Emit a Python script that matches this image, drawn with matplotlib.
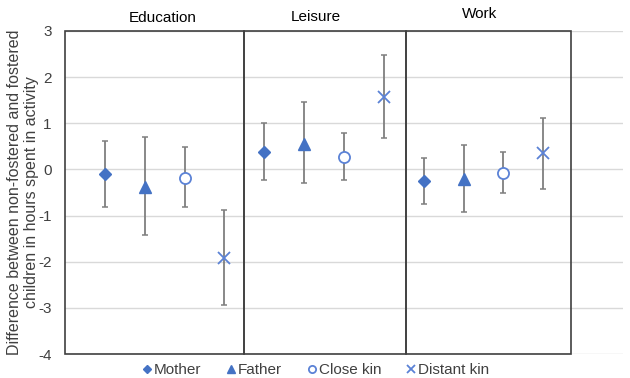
import matplotlib
matplotlib.use('Agg')
import matplotlib.pyplot as plt
from matplotlib.lines import Line2D
from matplotlib.patches import Rectangle

plt.rcParams['font.family'] = ['Liberation Sans', 'DejaVu Sans']
plt.rcParams['axes.unicode_minus'] = False

# activity panels and relative categories
groups = ['Education', 'Leisure', 'Work']
relatives = ['Mother', 'Father', 'Close kin', 'Distant kin']

# estimated differences (hours) with lower / upper bounds, one entry per group
mother_mean = [-0.10, 0.38, -0.24]
mother_lo = [-0.82, -0.23, -0.74]
mother_hi = [0.62, 1.00, 0.24]

father_mean = [-0.38, 0.56, -0.20]
father_lo = [-1.42, -0.30, -0.93]
father_hi = [0.70, 1.46, 0.54]

close_mean = [-0.18, 0.28, -0.08]
close_lo = [-0.82, -0.23, -0.52]
close_hi = [0.48, 0.80, 0.38]

distant_mean = [-1.93, 1.58, 0.35]
distant_lo = [-2.94, 0.68, -0.42]
distant_hi = [-0.87, 2.48, 1.12]

y_ticks = [3, 2, 1, 0, -1, -2, -3, -4]

series = [
    (mother_mean, mother_lo, mother_hi),
    (father_mean, father_lo, father_hi),
    (close_mean, close_lo, close_hi),
    (distant_mean, distant_lo, distant_hi),
]

blue = '#4472C4'
light_blue = '#5B82D6'
styles = [
    dict(marker='D', ms=6, mfc=blue, mec=blue, mew=1.0),
    dict(marker='^', ms=9, mfc=blue, mec=blue, mew=1.0),
    dict(marker='o', ms=8, mfc='white', mec=light_blue, mew=1.3),
    dict(marker='x', ms=9, mfc=light_blue, mec=light_blue, mew=1.3),
]

fig = plt.figure(figsize=(6.3, 3.78), dpi=100)
ax = fig.add_axes([65 / 630, 1 - 354 / 378, 558 / 630, 323 / 378])

for r, ((mean, lo, hi), st) in enumerate(zip(series, styles)):
    xs = [1 + 4 * g + r for g in range(len(groups))]
    err = [[m - l for m, l in zip(mean, lo)], [h - m for m, h in zip(mean, hi)]]
    ax.errorbar(xs, mean, yerr=err, fmt='none', ecolor='#7F7F7F',
                elinewidth=1.3, capsize=2.5, capthick=1.1, zorder=3)
    ax.plot(xs, mean, linestyle='none', zorder=4, **st)

ax.set_xlim(0, 14)
ax.set_ylim(-4, 3)
ax.set_yticks(y_ticks)
ax.set_xticks([])
ax.tick_params(axis='y', length=0, pad=9.5, labelsize=11, colors='#404040')
for s in ax.spines.values():
    s.set_visible(False)
ax.grid(axis='y', color='#D9D9D9', linewidth=1.0)
ax.set_axisbelow(True)

# panel boxes
edges = [0, 4.5, 8.55, 12.7]
for i in range(len(groups)):
    ax.add_patch(Rectangle((edges[i], -4), edges[i + 1] - edges[i], 7,
                           fill=False, edgecolor='#404040', linewidth=1.2,
                           clip_on=False, zorder=5))

label_x = [2.46, 6.3, 10.41]
label_y = [3.28, 3.30, 3.37]
for name, lx, ly in zip(groups, label_x, label_y):
    ax.text(lx, ly, name, ha='center', va='center', fontsize=11, color='#000000')

fig.text(23 / 630, 1 - 192 / 378,
         'Difference between non-fostered and fostered\nchildren in hours spent in activity',
         rotation=90, ha='center', va='center', fontsize=11.5, color='#404040',
         linespacing=1.12, multialignment='center')

handles = [Line2D([], [], linestyle='none', marker=st['marker'], mfc=st['mfc'],
                  mec=st['mec'], mew=st['mew'], ms=st['ms'] * 0.65) for st in styles]
fig.legend(handles, relatives, loc='center', bbox_to_anchor=(315 / 630, 1 - 370 / 378),
           ncol=4, frameon=False, fontsize=11, handletextpad=0.05,
           columnspacing=1.55, handlelength=0.8, labelcolor='#404040')

fig.savefig('out.png', dpi=100)
